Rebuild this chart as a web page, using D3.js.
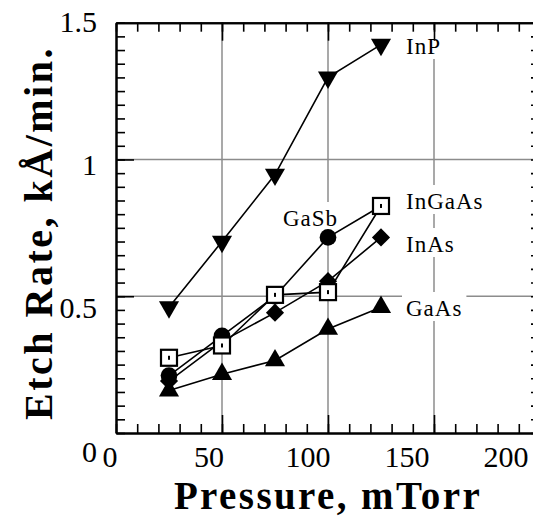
<!DOCTYPE html>
<html>
<head>
<meta charset="utf-8">
<script src="https://cdn.jsdelivr.net/npm/d3@7"></script>
<style>
  body { margin: 0; background: #fff; }
</style>
</head>
<body>
<div id="chart"></div>
<script>
// Data
const pressure = [25, 50, 75, 100, 125];
const inP    = [0.46, 0.70, 0.945, 1.30, 1.42];
const inGaAs = [0.275, 0.32, 0.505, 0.515, 0.83];
const gaSb   = [0.21, 0.355, 0.50, 0.715, 0.83];
const inAs   = [0.19, 0.335, 0.44, 0.555, 0.715];
const gaAs   = [0.155, 0.215, 0.265, 0.38, 0.46];

const xTickLabels = [0, 50, 100, 150, 200];
const yTickLabels = [0, 0.5, 1, 1.5];

const FONT = '"Liberation Serif"';

const W = 533, H = 517;
const svg = d3.select("#chart").append("svg")
    .attr("width", W)
    .attr("height", H)
    .style("font-family", FONT);

// scales
const x = d3.scaleLinear().domain([0, 200]).range([116, 540]);
const y = d3.scaleLinear().domain([0, 1.5]).range([433, 22.7]);
// tick labels sit a bit off their ticks in the original
const xLab = d3.scaleLinear().domain([0, 200]).range([110, 506]);
const yLab = d3.scaleLinear().domain([0, 1.5]).range([451, 21]);

const xMinor = d3.range(0, 201, 10);
const yMinor = d3.range(0, 1.501, 0.05).map(d => +d.toFixed(2));
const xMajor = [50, 100, 150];
const yMajor = [0.5, 1];

// gridlines
const grid = svg.append("g").attr("stroke", "#8c8c8c").attr("stroke-width", 1.5);
grid.selectAll("line.gx").data(xMajor).enter().append("line")
    .attr("x1", d => x(d)).attr("x2", d => x(d))
    .attr("y1", y(0)).attr("y2", y(1.5));
grid.selectAll("line.gy").data(yMajor).enter().append("line")
    .attr("y1", d => y(d)).attr("y2", d => y(d))
    .attr("x1", x(0)).attr("x2", x(200));

// series labels (white boxes cut the gridlines)
const labels = [
    { name: "InP",    x: 406, y: 54 },
    { name: "InGaAs", x: 406, y: 209 },
    { name: "GaSb",   x: 283, y: 226 },
    { name: "InAs",   x: 406, y: 252 },
    { name: "GaAs",   x: 406, y: 316 }
];
const labBg = svg.append("g");
const labTxt = svg.append("g");

// axes (ticks inward on all four sides)
function styleAxis(g) {
    g.select(".domain").attr("stroke", "#000").attr("stroke-width", 2);
    g.selectAll(".tick line").attr("stroke", "#000").attr("stroke-width", 1.6);
    g.selectAll("text").remove();
}

svg.append("g")
    .attr("transform", `translate(0,${y(0)})`)
    .call(d3.axisBottom(x).tickValues(xMinor).tickSizeInner(-9).tickSizeOuter(0).tickFormat(""))
    .call(styleAxis);
svg.append("g")
    .attr("transform", `translate(0,${y(0)})`)
    .call(d3.axisBottom(x).tickValues(xMajor).tickSizeInner(-18).tickSizeOuter(0).tickFormat(""))
    .call(styleAxis);
svg.append("g")
    .attr("transform", `translate(0,${y(1.5)})`)
    .call(d3.axisTop(x).tickValues(xMinor).tickSizeInner(-9).tickSizeOuter(0).tickFormat(""))
    .call(styleAxis);
svg.append("g")
    .attr("transform", `translate(0,${y(1.5)})`)
    .call(d3.axisTop(x).tickValues(xMajor).tickSizeInner(-18).tickSizeOuter(0).tickFormat(""))
    .call(styleAxis);
svg.append("g")
    .attr("transform", `translate(${x(0)},0)`)
    .call(d3.axisLeft(y).tickValues(yMinor).tickSizeInner(-9).tickSizeOuter(0).tickFormat(""))
    .call(styleAxis);
svg.append("g")
    .attr("transform", `translate(${x(0)},0)`)
    .call(d3.axisLeft(y).tickValues(yMajor).tickSizeInner(-18).tickSizeOuter(0).tickFormat(""))
    .call(styleAxis);
svg.append("g")
    .attr("transform", `translate(${x(200)},0)`)
    .call(d3.axisRight(y).tickValues(yMinor).tickSizeInner(-9).tickSizeOuter(0).tickFormat(""))
    .call(styleAxis);

// tick labels
svg.append("g").selectAll("text").data(xTickLabels).enter().append("text")
    .attr("x", d => xLab(d))
    .attr("y", 467)
    .attr("text-anchor", "middle")
    .attr("font-size", 30)
    .text(d => d);
svg.append("g").selectAll("text").data(yTickLabels).enter().append("text")
    .attr("x", 97)
    .attr("y", d => yLab(d))
    .attr("dy", "0.35em")
    .attr("text-anchor", "end")
    .attr("font-size", 30)
    .text(d => d);

// axis titles
svg.append("text")
    .attr("x", 328)
    .attr("y", 508.5)
    .attr("text-anchor", "middle")
    .attr("font-size", 39)
    .attr("font-weight", "bold")
    .attr("letter-spacing", 2.4)
    .text("Pressure, mTorr");
svg.append("text")
    .attr("transform", "translate(52,233) rotate(-90)")
    .attr("text-anchor", "middle")
    .attr("font-size", 40)
    .attr("font-weight", "bold")
    .attr("letter-spacing", 2.5)
    .text("Etch Rate, kÅ/min.");

// series
const series = [
    { name: "GaAs",   values: gaAs,   mark: "triUp" },
    { name: "InAs",   values: inAs,   mark: "diamond" },
    { name: "GaSb",   values: gaSb,   mark: "circle" },
    { name: "InP",    values: inP,    mark: "triDown" },
    { name: "InGaAs", values: inGaAs, mark: "square" }
];

const line = d3.line()
    .x((d, i) => x(pressure[i]))
    .y(d => y(d));

svg.append("g").selectAll("path").data(series).enter().append("path")
    .attr("d", d => line(d.values))
    .attr("fill", "none")
    .attr("stroke", "#000")
    .attr("stroke-width", 1.6);

const symbols = {
    triUp:   { path: d3.symbol().type(d3.symbolTriangle).size(175)(), rot: 0 },
    triDown: { path: d3.symbol().type(d3.symbolTriangle).size(175)(), rot: 180 },
    diamond: { path: d3.symbol().type(d3.symbolSquare).size(165)(), rot: 45 },
    circle:  { path: d3.symbol().type(d3.symbolCircle).size(220)(), rot: 0 }
};

series.forEach(s => {
    const g = svg.append("g");
    const pts = g.selectAll("g").data(s.values).enter().append("g")
        .attr("transform", (d, i) => `translate(${x(pressure[i])},${y(d)})`);
    if (s.mark === "square") {
        pts.append("rect")
            .attr("x", -8).attr("y", -8)
            .attr("width", 16).attr("height", 16)
            .attr("fill", "#fff")
            .attr("stroke", "#000")
            .attr("stroke-width", 2.2);
        pts.append("rect")
            .attr("x", -1).attr("y", -2)
            .attr("width", 2).attr("height", 4)
            .attr("fill", "#000");
    } else {
        const sym = symbols[s.mark];
        pts.append("path")
            .attr("d", sym.path)
            .attr("transform", `rotate(${sym.rot})`)
            .attr("fill", "#000");
    }
});

// label text with white boxes behind
labels.forEach(l => {
    const t = labTxt.append("text")
        .attr("x", l.x)
        .attr("y", l.y)
        .attr("font-size", 23)
        .attr("letter-spacing", 1)
        .text(l.name);
    const b = t.node().getBBox();
    labBg.append("rect")
        .attr("x", b.x - 4)
        .attr("y", b.y - 4)
        .attr("width", b.width + 8)
        .attr("height", b.height + 4)
        .attr("fill", "#fff");
});
</script>
</body>
</html>
